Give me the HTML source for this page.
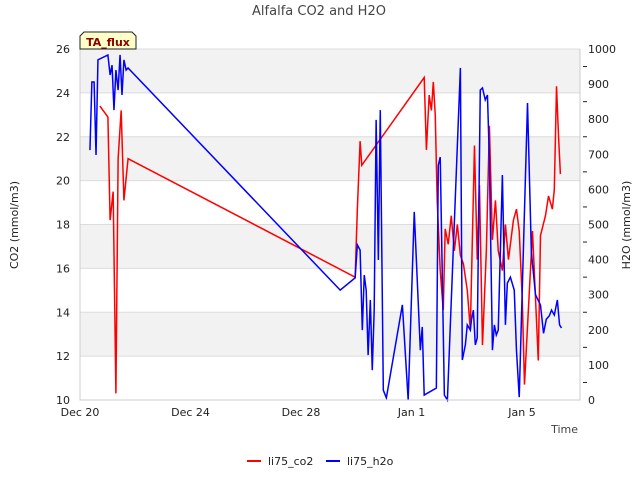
<!DOCTYPE html>
<html><head><meta charset="utf-8"><style>
body{margin:0;background:#fff;font-family:"DejaVu Sans","Liberation Sans",sans-serif;}
svg text{font-family:"DejaVu Sans","Liberation Sans",sans-serif;}
</style></head><body>
<svg id="chart" width="640" height="480" xmlns="http://www.w3.org/2000/svg">
<g id="bands"></g><g id="grid"></g><g id="series"></g><g id="axes"></g>
</svg>
<script>
const xTickLabels=["Dec 20","Dec 24","Dec 28","Jan 1","Jan 5"];
const xTickDays=[0,4,8,12,16];
const co2Ticks=[10,12,14,16,18,20,22,24,26];
const h2oTicks=[0,100,200,300,400,500,600,700,800,900,1000];
const co2Days=[0.72,1.01,1.09,1.2,1.3,1.38,1.49,1.59,1.74,9.96,10.04,10.14,10.2,12.46,12.54,12.64,12.72,12.79,12.86,12.93,13.04,13.15,13.22,13.33,13.44,13.55,13.66,13.77,13.88,14.02,14.13,14.28,14.38,14.46,14.57,14.71,14.82,14.93,15.04,15.14,15.29,15.4,15.51,15.69,15.8,15.9,16.01,16.09,16.38,16.59,16.67,16.85,16.96,17.1,17.17,17.25,17.32,17.39];
const co2Vals=[23.4,22.9,18.2,19.5,10.3,21,23.2,19.1,21,15.6,18.7,21.8,20.7,24.7,21.4,23.9,23.2,24.5,23,19.1,15.9,14.1,17.8,17.1,18.4,16.8,18,16.6,16.2,15,13.2,21.6,16.4,19.8,12.5,16.8,22.5,17.3,19.1,16.8,15.9,18,16.4,18.2,18.7,17.7,14.6,10.7,17.7,11.8,17.5,18.4,19.3,18.7,19.6,24.3,22.1,20.3];
const h2oDays=[0.36,0.43,0.51,0.58,0.65,1.01,1.09,1.16,1.23,1.3,1.38,1.45,1.52,1.59,1.67,1.74,9.42,9.96,10.04,10.14,10.22,10.29,10.36,10.43,10.51,10.58,10.65,10.72,10.8,10.87,10.98,11.09,11.67,11.88,12.1,12.32,12.39,12.46,12.9,12.97,13.04,13.19,13.3,13.77,13.84,13.95,14.02,14.13,14.17,14.24,14.31,14.38,14.49,14.57,14.67,14.75,14.82,14.93,15.0,15.07,15.14,15.29,15.4,15.47,15.58,15.72,15.8,15.9,16.2,16.34,16.49,16.67,16.78,16.88,16.99,17.07,17.17,17.28,17.36,17.43];
const h2oVals=[712,906,906,698,969,983,926,954,826,940,883,983,869,969,940,946,313,348,442,427,199,356,313,128,285,85,256,798,399,826,28,6,271,0,536,142,208,14,34,669,692,14,0,946,114,157,214,199,228,256,157,177,883,889,855,869,684,142,214,185,199,641,214,333,350,313,142,8,846,420,300,270,190,230,240,256,242,285,214,205];
const L=80,R=580,T=49,B=400,NS="http://www.w3.org/2000/svg";
const xS=d=>L+d*(R-L)/18.1;
const yC=v=>B-(v-10)*(B-T)/16;
const yH=v=>B-v*(B-T)/1000;
function mk(tag,attrs,parent,txt){const e=document.createElementNS(NS,tag);for(const k in attrs)e.setAttribute(k,attrs[k]);if(txt!==undefined)e.textContent=txt;document.getElementById(parent).appendChild(e);return e;}
for(let i=0;i<co2Ticks.length-1;i+=2){
 const b=mk('rect',{x:L,y:yC(co2Ticks[i+2]||26),width:R-L,height:yC(co2Ticks[i+1])-yC(co2Ticks[i+2]||26),fill:'#f2f2f2'},'bands');
 
 
}
co2Ticks.forEach(v=>{
 const g=mk('line',{x1:L,x2:R,y1:yC(v),y2:yC(v),stroke:'#dcdcdc','stroke-width':1},'grid');
 
 
 const t=mk('text',{x:L-10,y:yC(v)+4,'text-anchor':'end','font-size':11,fill:'#222'},'axes',String(v));
 
 
});
h2oTicks.forEach(v=>{
 const t=mk('text',{x:R+8,y:yH(v)+4,'font-size':11,fill:'#222'},'axes',String(v));
 
 
});
for(let v=50;v<1000;v+=100){const m=mk('line',{x1:R+3,x2:R+7,y1:yH(v),y2:yH(v),stroke:'#222'},'axes');}
xTickDays.forEach((d,i)=>{
 const t=mk('text',{x:xS(d),y:B+16,'text-anchor':'middle','font-size':11,fill:'#222'},'axes',xTickLabels[i]);
 
 
});
function poly(days,vals,ys,color,name){
 const p=mk('polyline',{points:days.map((d,i)=>xS(d)+','+ys(vals[i])).join(' '),fill:'none',stroke:color,'stroke-width':1.5},'series');
 
 
}
poly(co2Days,co2Vals,yC,'#ff0000','co2-line');
poly(h2oDays,h2oVals,yH,'#0000ff','h2o-line');
const ax=mk('path',{d:`M${L},${T}V${B}H${R}V${T}`,fill:'none',stroke:'#ccc'},'axes');

</script>
<svg width="640" height="480" style="position:absolute;left:0;top:0" xmlns="http://www.w3.org/2000/svg">
<text x="319" y="15" text-anchor="middle" font-size="13" fill="#444">Alfalfa CO2 and H2O</text>
<g>
<path d="M84,32 L132,32 L136,36 L136,49 L80,49 L80,36 Z" fill="#ffffc8" stroke="#222"/>
<text x="108" y="46" text-anchor="middle" font-size="11" font-weight="bold" fill="#8b0000">TA_flux</text></g>
<text transform="translate(18,225) rotate(-90)" text-anchor="middle" font-size="11" fill="#222">CO2 (mmol/m3)</text>
<text transform="translate(630,225) rotate(-90)" text-anchor="middle" font-size="11" fill="#222">H2O (mmol/m3)</text>
<text x="578" y="433" text-anchor="end" font-size="11" fill="#444">Time</text>
<g><line x1="247" x2="261" y1="461" y2="461" stroke="#ff0000" stroke-width="2"/><text x="268" y="465" font-size="11" fill="#222">li75_co2</text></g>
<g><line x1="326" x2="340" y1="461" y2="461" stroke="#0000ff" stroke-width="2"/><text x="347" y="465" font-size="11" fill="#222">li75_h2o</text></g>
</svg>
</body></html>
